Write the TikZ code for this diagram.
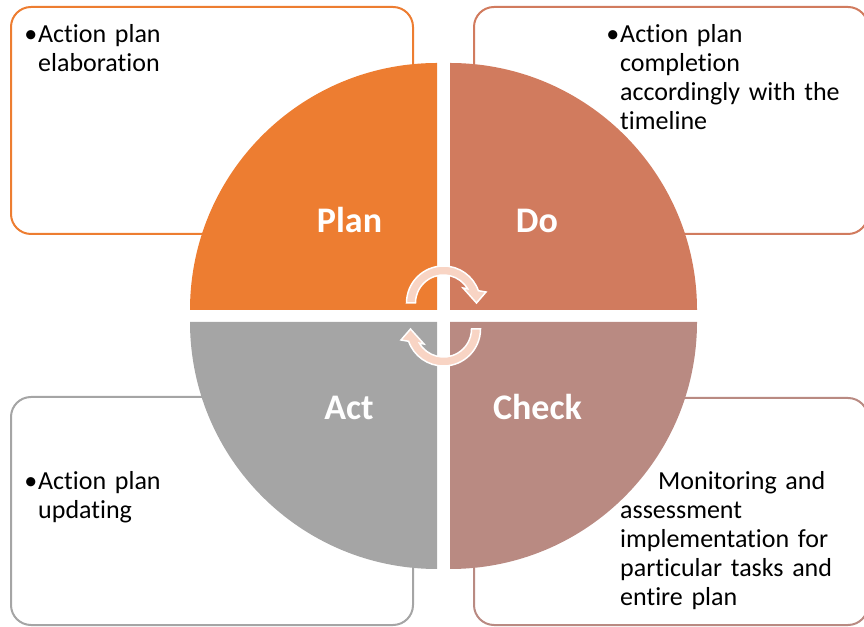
\documentclass[tikz,border=0pt]{standalone}
\usepackage{fontspec}
\setmainfont{Carlito}[Ligatures=NoCommon]
\definecolor{plancol}{RGB}{237,125,49}
\definecolor{docol}{RGB}{209,123,94}
\definecolor{checkcol}{RGB}{185,138,130}
\definecolor{actcol}{RGB}{165,165,165}
\definecolor{arrowfill}{RGB}{248,212,196}

\tikzset{
  frame/.style={draw=#1, line width=2pt, rounded corners=20pt},
  bodytext/.style={anchor=base west, inner sep=0pt, text width=250pt, align=left,
    font=\fontsize{26}{29}\selectfont},
  phase/.style={anchor=base, text=white, inner sep=0pt, font=\fontsize{36}{43}\selectfont\bfseries},
  cycle arrow/.pic={
    \filldraw[fill=arrowfill, draw=white, line width=1.5pt]
      (180:37) arc[start angle=180, end angle=19.4, radius=37] -- (14.5:43.9) -- (0:33)
      -- (37.6:24.6) -- (30.4:28) arc[start angle=30.4, end angle=180, radius=28] -- cycle;
  }
}

\begin{document}
\begin{tikzpicture}[x=1pt,y=1pt]
      \useasboundingbox (0,0) rectangle (864,626);

      \draw[frame=plancol] (11,392) rectangle (413,619);
      \draw[frame=docol] (474,392) rectangle (868,619);
      \draw[frame=actcol] (11,1) rectangle (413,229);
      \draw[frame=checkcol] (474,1) rectangle (868,228);

      \fill[plancol] (437,316) -- (190,316) arc[start angle=180, end angle=90, radius=247] -- cycle;
      \fill[docol] (450,316) -- (450,563) arc[start angle=90, end angle=0, radius=247] -- cycle;
      \fill[actcol] (437,304) -- (190,304) arc[start angle=180, end angle=270, radius=247] -- cycle;
      \fill[checkcol] (450,304) -- (697,304) arc[start angle=0, end angle=-90, radius=247] -- cycle;

      \node[phase] (plan) at (349.5,393) {Plan};
      \node[phase] (do) at (537,393) {Do};
      \node[phase] (act) at (349,206) {Act};
      \node[phase] (check) at (537.5,206) {Check};

      \node[bodytext] (plantext) at (38,583) {\llap{•\kern1pt}Action plan\\elaboration};
      \node[bodytext] (dotext) at (620,583) {\llap{•\kern1pt}Action plan\\completion\\accordingly with the\\timeline};
      \node[bodytext] (acttext) at (38,136) {\llap{•\kern1pt}Action plan\\updating};
      \node[bodytext] (checktext) at (620,136) {\hspace*{38pt}Monitoring and\\assessment\\implementation for\\particular tasks and\\entire plan};

      \pic at (443.5,323) {cycle arrow};
      \pic[rotate=180] at (443.5,297) {cycle arrow};
    \end{tikzpicture}
\end{document}
